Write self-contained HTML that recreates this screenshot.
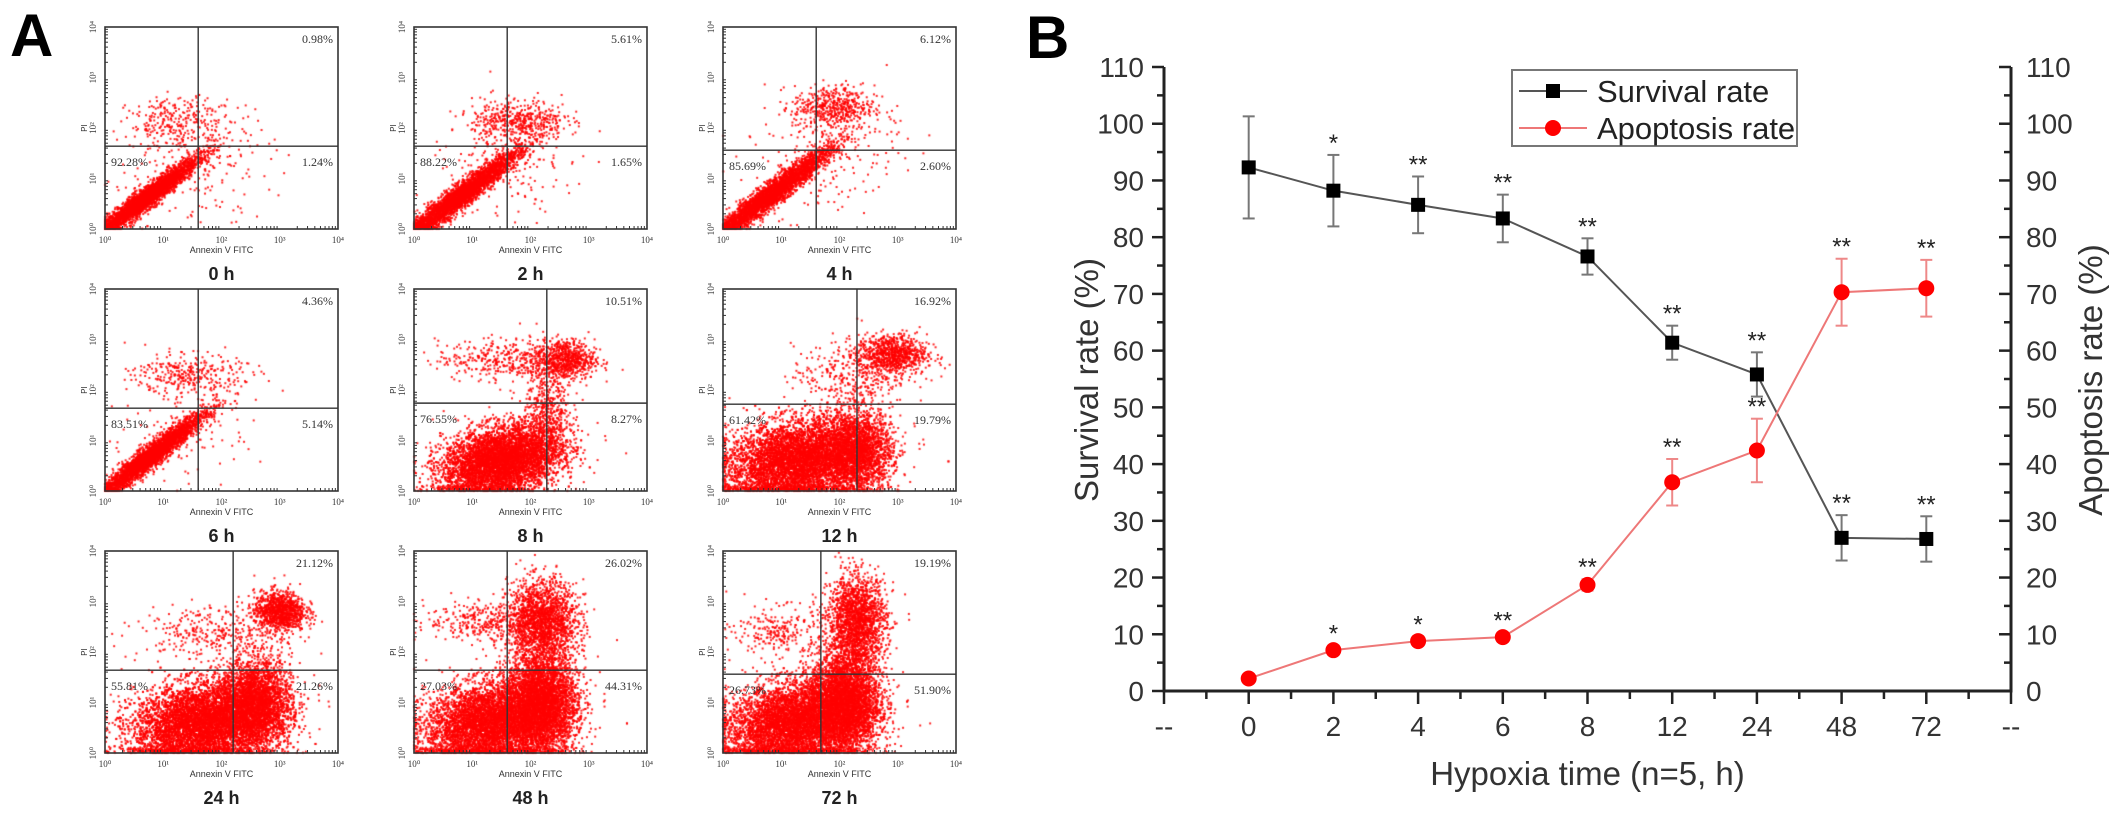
<!DOCTYPE html>
<html><head><meta charset="utf-8">
<style>
body{margin:0;background:#fff;}
#root{position:relative;width:2126px;height:827px;overflow:hidden;background:#fff;font-family:"Liberation Sans",sans-serif;}
.lbl{position:absolute;font-weight:bold;font-size:60px;line-height:1;}
canvas{position:absolute;left:0;top:0;}
svg{position:absolute;left:0;top:0;}
</style></head>
<body>
<div id="root">
<div class="lbl" style="left:10px;top:6px;">A</div>
<div class="lbl" style="left:1026px;top:8px;">B</div>
<canvas id="cv" width="1000" height="827"></canvas>
<svg id="fa" width="1000" height="827"></svg>
<svg id="fb" width="2126" height="827" style="pointer-events:none"></svg>
</div>
<script>
// ===== Panel B data =====
const categories = ["0","2","4","6","8","12","24","48","72"];
const survival = [92.3, 88.2, 85.7, 83.3, 76.6, 61.4, 55.8, 27.0, 26.8];
const survivalErr = [9.0, 6.3, 5.0, 4.2, 3.2, 3.0, 3.9, 4.0, 4.0];
const survivalStars = ["", "*", "**", "**", "**", "**", "**", "**", "**"];
const apoptosis = [2.2, 7.2, 8.8, 9.5, 18.7, 36.8, 42.4, 70.3, 71.0];
const apoptosisErr = [0.5, 0.8, 0.8, 0.8, 1.0, 4.1, 5.6, 5.9, 5.0];
const apoptosisStars = ["", "*", "*", "**", "**", "**", "**", "**", "**"];
const yTicks = [0,10,20,30,40,50,60,70,80,90,100,110];

// ===== Panel A data =====
const timeLabels = ["0 h","2 h","4 h","6 h","8 h","12 h","24 h","48 h","72 h"];
const urPct = ["0.98%","5.61%","6.12%","4.36%","10.51%","16.92%","21.12%","26.02%","19.19%"];
const llPct = ["92.28%","88.22%","85.69%","83.51%","76.55%","61.42%","55.81%","27.03%","26.73%"];
const lrPct = ["1.24%","1.65%","2.60%","5.14%","8.27%","19.79%","21.26%","44.31%","51.90%"];
const gateX = [0.40,0.40,0.40,0.40,0.57,0.575,0.55,0.40,0.42];
const gateY = [0.59,0.59,0.61,0.59,0.565,0.57,0.59,0.59,0.61];
// clusters: [cx, cy, sx, sy, rho, n] in log decades
const clusters = [
 [[0.7,0.6,0.45,0.4,0.96,3500],[1.3,2.1,0.45,0.25,0,300],[1.5,1.2,0.7,0.6,0.3,200]],
 [[0.8,0.65,0.5,0.45,0.96,3600],[1.8,2.15,0.4,0.2,0,450],[1.6,1.3,0.7,0.6,0.3,200]],
 [[0.85,0.7,0.5,0.45,0.96,3600],[1.9,2.4,0.35,0.22,0,500],[1.7,1.4,0.7,0.6,0.3,200]],
 [[0.8,0.7,0.45,0.42,0.96,3400],[1.4,2.3,0.45,0.2,0,300],[1.4,1.3,0.7,0.6,0.3,150]],
 [[1.5,0.6,0.5,0.35,0.3,6000],[2.6,2.6,0.25,0.2,0,700],[1.6,2.6,0.6,0.2,0,400],[2.3,1.5,0.2,0.5,0,500]],
 [[1.3,0.6,0.6,0.4,0.2,6500],[2.3,0.8,0.3,0.4,0,2200],[2.9,2.7,0.3,0.2,0,900],[2.2,2.3,0.5,0.3,0,300]],
 [[1.7,0.6,0.6,0.4,0.2,7000],[2.6,1.0,0.3,0.45,0,2800],[3.0,2.8,0.22,0.2,0,1100],[1.8,2.4,0.6,0.25,0,300]],
 [[1.3,0.6,0.55,0.4,0.2,5500],[2.2,1.0,0.3,0.5,0,4000],[2.2,2.6,0.3,0.4,0,2000],[1.2,2.6,0.5,0.2,0,300]],
 [[1.2,0.6,0.55,0.4,0.2,5500],[2.1,1.0,0.3,0.5,0,4000],[2.3,2.6,0.25,0.45,0,2000],[1.0,2.4,0.4,0.25,0,250]]
];

const NS="http://www.w3.org/2000/svg";
function mk(parent,tag,attrs,text){const e=document.createElementNS(NS,tag);for(const k in attrs)e.setAttribute(k,attrs[k]);if(text!==undefined)e.textContent=text;parent.appendChild(e);return e;}

// ===== Panel A drawing =====
const cv=document.getElementById('cv').getContext('2d');
const fa=document.getElementById('fa');
const colL=[105,414,723], rowT=[27,289,551], PW=233, PH=202;
let seed=12345;
function rnd(){seed=(seed*1103515245+12345)&0x7fffffff;return seed/0x7fffffff;}
function gauss(){let u=rnd()||1e-6,v=rnd();return Math.sqrt(-2*Math.log(u))*Math.cos(2*Math.PI*v);}
const sup=["⁰","¹","²","³","⁴"];
for(let i=0;i<9;i++){
  const L=colL[i%3], T=rowT[Math.floor(i/3)];
  const sx=d=>L+d/4*PW, sy=d=>T+PH-d/4*PH;
  const g=mk(fa,'g',{});
  
  
  cv.fillStyle='rgba(255,0,0,0.85)';
  for(const c of clusters[i]){
    for(let k=0;k<c[5];k++){
      const a=gauss(),b=gauss();
      let x=c[0]+c[2]*a, y=c[1]+c[3]*(c[4]*a+Math.sqrt(1-c[4]*c[4])*b);
      if(x<0)x=Math.abs(x)*0.3; if(y<0)y=Math.abs(y)*0.3;
      if(x>4||y>4)continue;
      cv.fillRect(sx(x)-1,sy(y)-1,2,2);
    }
  }
  mk(g,'rect',{x:L,y:T,width:PW,height:PH,fill:'none',stroke:'#333','stroke-width':1.6});
  const gx=L+gateX[i]*PW, gy=T+gateY[i]*PH;
  mk(g,'line',{x1:gx,y1:T,x2:gx,y2:T+PH,stroke:'#333','stroke-width':1.4});
  mk(g,'line',{x1:L,y1:gy,x2:L+PW,y2:gy,stroke:'#333','stroke-width':1.4});
  for(let d=0;d<=4;d++){
    mk(g,'text',{x:sx(d),y:T+PH+14,'font-size':9,'font-family':'Liberation Serif, serif','text-anchor':'middle',fill:'#333'},'10'+sup[d]);
    mk(g,'text',{x:L-9,y:sy(d),'font-size':9,'font-family':'Liberation Serif, serif','text-anchor':'middle',fill:'#333',transform:`rotate(-90 ${L-9} ${sy(d)})`},'10'+sup[d]);
    if(d<4)for(let m=2;m<10;m++){const xx=sx(d+Math.log10(m)), yy=sy(d+Math.log10(m));
      mk(g,'line',{x1:xx,y1:T+PH,x2:xx,y2:T+PH-3,stroke:'#333','stroke-width':1});
      mk(g,'line',{x1:L,y1:yy,x2:L+3,y2:yy,stroke:'#333','stroke-width':1});}
  }
  mk(g,'text',{x:L-18,y:T+PH*0.5,'font-size':8,'text-anchor':'middle',fill:'#333',transform:`rotate(-90 ${L-18} ${T+PH*0.5})`},'PI');
  mk(g,'text',{x:L+PW/2,y:T+PH+24,'font-size':9,'text-anchor':'middle',fill:'#333'},'Annexin V FITC');
  mk(g,'text',{x:L+PW/2,y:T+PH+51,'font-size':18,'font-weight':'bold','text-anchor':'middle',fill:'#222'},timeLabels[i]);
  mk(g,'text',{x:L+PW-5,y:T+16,'font-size':12,'font-family':'Liberation Serif, serif','text-anchor':'end',fill:'#333'},urPct[i]);
  mk(g,'text',{x:L+PW-5,y:gy+20,'font-size':12,'font-family':'Liberation Serif, serif','text-anchor':'end',fill:'#333'},lrPct[i]);
  mk(g,'text',{x:L+6,y:gy+20,'font-size':12,'font-family':'Liberation Serif, serif','text-anchor':'start',fill:'#333'},llPct[i]);
}

// ===== Panel B drawing =====
const fb=document.getElementById('fb');
const X0=1164, DX=84.7, Y0=691, YTOP=67;
const xPos=i=>X0+(i+1)*DX;
const yPos=v=>Y0-(v/110)*(Y0-YTOP);
const XR=X0+10*DX;
const ax=mk(fb,'g',{});


mk(ax,'line',{x1:X0,y1:YTOP,x2:X0,y2:Y0+1.5,stroke:'#222','stroke-width':3});
mk(ax,'line',{x1:XR,y1:YTOP,x2:XR,y2:Y0+1.5,stroke:'#222','stroke-width':3});
mk(ax,'line',{x1:X0,y1:Y0,x2:XR,y2:Y0,stroke:'#222','stroke-width':3});
yTicks.forEach(v=>{
  const y=yPos(v);
  mk(ax,'line',{x1:X0-12,y1:y,x2:X0,y2:y,stroke:'#222','stroke-width':2.5});
  mk(ax,'line',{x1:XR-12,y1:y,x2:XR,y2:y,stroke:'#222','stroke-width':2.5});
  mk(ax,'text',{x:X0-20,y:y+10,'font-size':28,'text-anchor':'end',fill:'#333'},String(v));
  mk(ax,'text',{x:XR+15,y:y+10,'font-size':28,'text-anchor':'start',fill:'#333'},String(v));
  if(v<110){const ym=yPos(v+5);
    mk(ax,'line',{x1:X0-7,y1:ym,x2:X0,y2:ym,stroke:'#222','stroke-width':2.5});
    mk(ax,'line',{x1:XR-7,y1:ym,x2:XR,y2:ym,stroke:'#222','stroke-width':2.5});}
});
const xl=["--"].concat(categories).concat(["--"]);
xl.forEach((t,k)=>{
  const x=X0+k*DX;
  mk(ax,'line',{x1:x,y1:Y0,x2:x,y2:Y0+13,stroke:'#222','stroke-width':2.5});
  if(k<10)mk(ax,'line',{x1:x+DX/2,y1:Y0,x2:x+DX/2,y2:Y0+8,stroke:'#222','stroke-width':2.5});
  mk(ax,'text',{x:x,y:Y0+45,'font-size':28,'text-anchor':'middle',fill:'#333'},t);
});
mk(ax,'text',{x:(X0+XR)/2,y:785,'font-size':33,'text-anchor':'middle',fill:'#333'},'Hypoxia time (n=5, h)');
mk(ax,'text',{x:1098,y:380,'font-size':33,'text-anchor':'middle',fill:'#333',transform:'rotate(-90 1098 380)'},'Survival rate (%)');
mk(ax,'text',{x:2102,y:380,'font-size':33,'text-anchor':'middle',fill:'#333',transform:'rotate(-90 2102 380)'},'Apoptosis rate (%)');

function series(vals,errs,stars,lineCol,errCol,kind,name){
  const g=mk(fb,'g',{});
  
  
  mk(g,'polyline',{points:vals.map((v,i)=>xPos(i)+','+yPos(v)).join(' '),fill:'none',stroke:lineCol,'stroke-width':2});
  vals.forEach((v,i)=>{
    const x=xPos(i),top=yPos(v+errs[i]),bot=yPos(v-errs[i]);
    mk(g,'line',{x1:x,y1:top,x2:x,y2:bot,stroke:errCol,'stroke-width':2});
    mk(g,'line',{x1:x-6,y1:top,x2:x+6,y2:top,stroke:errCol,'stroke-width':2});
    mk(g,'line',{x1:x-6,y1:bot,x2:x+6,y2:bot,stroke:errCol,'stroke-width':2});
    let m;
    if(kind==='sq')m=mk(g,'rect',{x:x-7,y:yPos(v)-7,width:14,height:14,fill:'#000'});
    else m=mk(g,'circle',{cx:x,cy:yPos(v),r:8,fill:'#f00'});
    
    
    if(stars[i])mk(g,'text',{x:x,y:top-4,'font-size':24,'text-anchor':'middle',fill:'#222'},stars[i]);
  });
}
series(survival,survivalErr,survivalStars,'#555','#777','sq','survival-series');
series(apoptosis,apoptosisErr,apoptosisStars,'#e77','#e88','ci','apoptosis-series');

// legend
const lg=mk(fb,'g',{});


mk(lg,'rect',{x:1512,y:70,width:285,height:76,fill:'#fff',stroke:'#777','stroke-width':2});
mk(lg,'line',{x1:1519,y1:91,x2:1587,y2:91,stroke:'#555','stroke-width':2});
mk(lg,'rect',{x:1546,y:84,width:14,height:14,fill:'#000'});
mk(lg,'text',{x:1597,y:102,'font-size':31,fill:'#222'},'Survival rate');
mk(lg,'line',{x1:1519,y1:128,x2:1587,y2:128,stroke:'#e77','stroke-width':2});
mk(lg,'circle',{cx:1553,cy:128,r:8,fill:'#f00'});
mk(lg,'text',{x:1597,y:139,'font-size':31,fill:'#222'},'Apoptosis rate');
</script>
</body></html>
